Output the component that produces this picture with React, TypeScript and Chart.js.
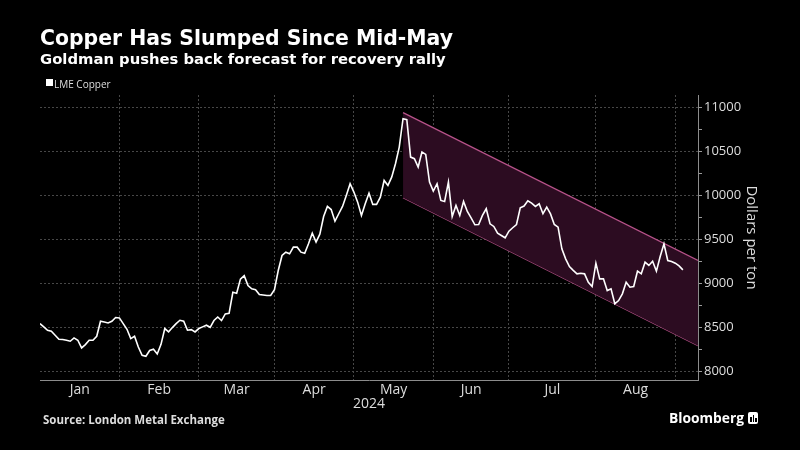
import React, { useEffect, useRef } from "react";
import { Chart, registerables } from "chart.js";

Chart.register(...registerables);

// LME copper, daily trading days 2024 (USD per ton)
const janPrices = [8545, 8508, 8470, 8458, 8413, 8367, 8364, 8356, 8345, 8383, 8356, 8269, 8307, 8356, 8356, 8401, 8572, 8564, 8553, 8572, 8614];
const febPrices = [8610, 8545, 8481, 8375, 8401, 8280, 8185, 8174, 8240, 8255, 8200, 8310, 8489, 8451, 8500, 8545, 8583, 8572, 8470, 8477, 8451];
const marPrices = [8489, 8508, 8527, 8503, 8580, 8620, 8580, 8655, 8662, 8900, 8890, 9050, 9090, 8977, 8940, 8930, 8875, 8870, 8864, 8864];
const aprPrices = [8930, 9148, 9318, 9356, 9337, 9413, 9413, 9356, 9344, 9451, 9572, 9470, 9560, 9760, 9875, 9840, 9708, 9792, 9875, 10000, 10133];
const mayPrices = [10038, 9924, 9773, 9906, 10026, 9898, 9898, 9981, 10170, 10114, 10208, 10360, 10549, 10871, 10860, 10435, 10417, 10322, 10492, 10466, 10151];
const junPrices = [10049, 10133, 9943, 9932, 10151, 9761, 9886, 9773, 9932, 9818, 9746, 9667, 9670, 9773, 9849, 9678, 9648, 9572, 9545, 9519];
const julPrices = [9594, 9633, 9670, 9860, 9880, 9940, 9913, 9875, 9905, 9792, 9867, 9790, 9670, 9640, 9394, 9280, 9193, 9150, 9110, 9117, 9110, 9015, 8966];
const augPrices = [9231, 9053, 9053, 8920, 8940, 8770, 8807, 8883, 9015, 8958, 8966, 9140, 9110, 9242, 9205, 9253, 9140, 9307, 9451, 9261, 9250];
const sepPrices = [9231, 9200, 9155];

const monthSeries = [janPrices, febPrices, marPrices, aprPrices, mayPrices, junPrices, julPrices, augPrices, sepPrices];
const monthLabels = ["Jan", "Feb", "Mar", "Apr", "May", "Jun", "Jul", "Aug"];
const yTickValues = [8000, 8250, 8500, 8750, 9000, 9250, 9500, 9750, 10000, 10250, 10500, 10750, 11000];
const yMin = 7905;
const yMax = 11140;
const xMaxIdx = 174;

// Downward channel (trading-day index, price)
const channelIdx = [96, 174];
const channelUpper = [10940, 9261];
const channelLower = [9974, 8295];

const prices: number[] = ([] as number[]).concat(...monthSeries);
const monthStarts: number[] = [];
{
  let acc = 0;
  for (const m of monthSeries) {
    monthStarts.push(acc);
    acc += m.length;
  }
}
const labelPositions = monthLabels.map((_, i) => (monthStarts[i] + monthStarts[i + 1]) / 2);

const FONT = "'Open Sans', 'DejaVu Sans', sans-serif";
const TITLE_FONT = "'DejaVu Sans', 'Open Sans', sans-serif";

export default function App() {
  const ref = useRef<HTMLCanvasElement>(null);

  useEffect(() => {
    document.body.style.margin = "0";
    document.body.style.background = "#000";
    const canvas = ref.current!;
    const chart = new Chart(canvas, {
      type: "line",
      data: {
        datasets: [
          {
            label: "LME Copper",
            data: prices.map((v, i) => ({ x: i, y: v })),
            borderColor: "#ffffff",
            borderWidth: 1.6,
            pointRadius: 0,
            tension: 0,
            fill: false,
            order: 0,
          },
          {
            label: "upper",
            data: channelIdx.map((x, i) => ({ x, y: channelUpper[i] })),
            borderColor: "#b8538a",
            borderWidth: 1.2,
            pointRadius: 0,
            fill: "+1",
            backgroundColor: "#2c0c21",
            order: 1,
          },
          {
            label: "lower",
            data: channelIdx.map((x, i) => ({ x, y: channelLower[i] })),
            borderColor: "#b8538a",
            borderWidth: 1.2,
            pointRadius: 0,
            fill: false,
            order: 2,
          },
        ],
      },
      options: {
        responsive: false,
        animation: false,
        layout: { padding: { left: 40, top: 95, right: 0, bottom: 0 } },
        plugins: {
          legend: { display: false },
          tooltip: { enabled: false },
          title: { display: false },
        },
        scales: {
          x: {
            type: "linear",
            position: "bottom",
            weight: 0,
            min: 0,
            max: xMaxIdx,
            afterBuildTicks: (s: any) => {
              s.ticks = monthStarts.slice(1).map((v) => ({ value: v }));
            },
            ticks: { display: false },
            grid: { color: "#474747", lineWidth: 1, drawTicks: false },
            border: { display: true, color: "#8c8c8c", width: 1, dash: [2, 2] },
            afterFit: (s: any) => {
              s.height = 0;
            },
          },
          x2: {
            type: "linear",
            position: "bottom",
            weight: 1,
            min: 0,
            max: xMaxIdx,
            afterBuildTicks: (s: any) => {
              s.ticks = labelPositions.map((v) => ({ value: v }));
            },
            ticks: {
              color: "#dddddd",
              font: { family: FONT, size: 14 },
              padding: 2,
              autoSkip: false,
              maxRotation: 0,
              callback: (_v: any, i: number) => monthLabels[i],
            },
            grid: { display: false, drawTicks: false },
            border: { display: false },
            title: {
              display: true,
              text: "2024",
              color: "#dddddd",
              font: { family: FONT, size: 14 },
              padding: { top: 0, bottom: 38 },
            },
            afterFit: (s: any) => {
              s.height = 70;
            },
          },
          y: {
            position: "right",
            min: yMin,
            max: yMax,
            afterBuildTicks: (s: any) => {
              s.ticks = yTickValues.map((v) => ({ value: v }));
            },
            ticks: {
              color: "#dddddd",
              font: { family: FONT, size: 13 },
              padding: 2,
              autoSkip: false,
              callback: (v: any) => (Number(v) % 500 === 0 ? String(v) : ""),
            },
            grid: {
              color: (ctx: any) =>
                ctx.tick && ctx.tick.value % 500 === 0 ? "#474747" : "rgba(0,0,0,0)",
              tickColor: "#9a9a9a",
              tickLength: 4,
              drawTicks: true,
            },
            border: { display: true, color: "#8c8c8c", width: 1, dash: [2, 2] },
            title: {
              display: true,
              text: "Dollars per ton",
              color: "#dddddd",
              font: { family: FONT, size: 15 },
              padding: { top: 40, bottom: 0 },
            },
            afterFit: (s: any) => {
              s.width = 102;
            },
          },
        },
      },
    } as any);
    return () => chart.destroy();
  }, []);

  const abs = (style: React.CSSProperties): React.CSSProperties => ({
    position: "absolute",
    margin: 0,
    lineHeight: 1,
    whiteSpace: "nowrap",
    fontFamily: FONT,
    ...style,
  });

  return (
    <div
      style={{
        position: "fixed",
        left: 0,
        top: 0,
        width: 800,
        height: 450,
        background: "#000",
        overflow: "hidden",
      }}
    >
      <canvas ref={ref} width={800} height={450} style={{ position: "absolute", left: 0, top: 0, width: 800, height: 450 }} />
      <div style={abs({ left: 40, top: 28, fontSize: 20.4, fontWeight: 700, color: "#fff", fontFamily: TITLE_FONT })}>
        Copper Has Slumped Since Mid-May
      </div>
      <div style={abs({ left: 40, top: 51.5, fontSize: 14.8, fontWeight: 700, color: "#fff", fontFamily: TITLE_FONT })}>
        Goldman pushes back forecast for recovery rally
      </div>
      <div style={abs({ left: 46, top: 79, width: 7, height: 7, background: "#fff" })} />
      <div style={abs({ left: 54, top: 78.5, fontSize: 10, color: "#dddddd" })}>LME Copper</div>
      <div style={abs({ left: 43, top: 414, fontSize: 11.5, fontWeight: 700, color: "#dddddd" })}>
        Source: London Metal Exchange
      </div>
      <div style={abs({ left: 669, top: 410.5, fontSize: 13.8, fontWeight: 700, color: "#fff" })}>Bloomberg</div>
      <div
        style={abs({
          left: 748,
          top: 412,
          width: 10,
          height: 12,
          background: "#fff",
          borderRadius: 2,
        })}
      >
        <div style={{ position: "absolute", left: 2, top: 5, width: 1.5, height: 5, background: "#000" }} />
        <div style={{ position: "absolute", left: 4.5, top: 3, width: 1.5, height: 7, background: "#000" }} />
        <div style={{ position: "absolute", left: 7, top: 6, width: 1.5, height: 4, background: "#000" }} />
      </div>
    </div>
  );
}
